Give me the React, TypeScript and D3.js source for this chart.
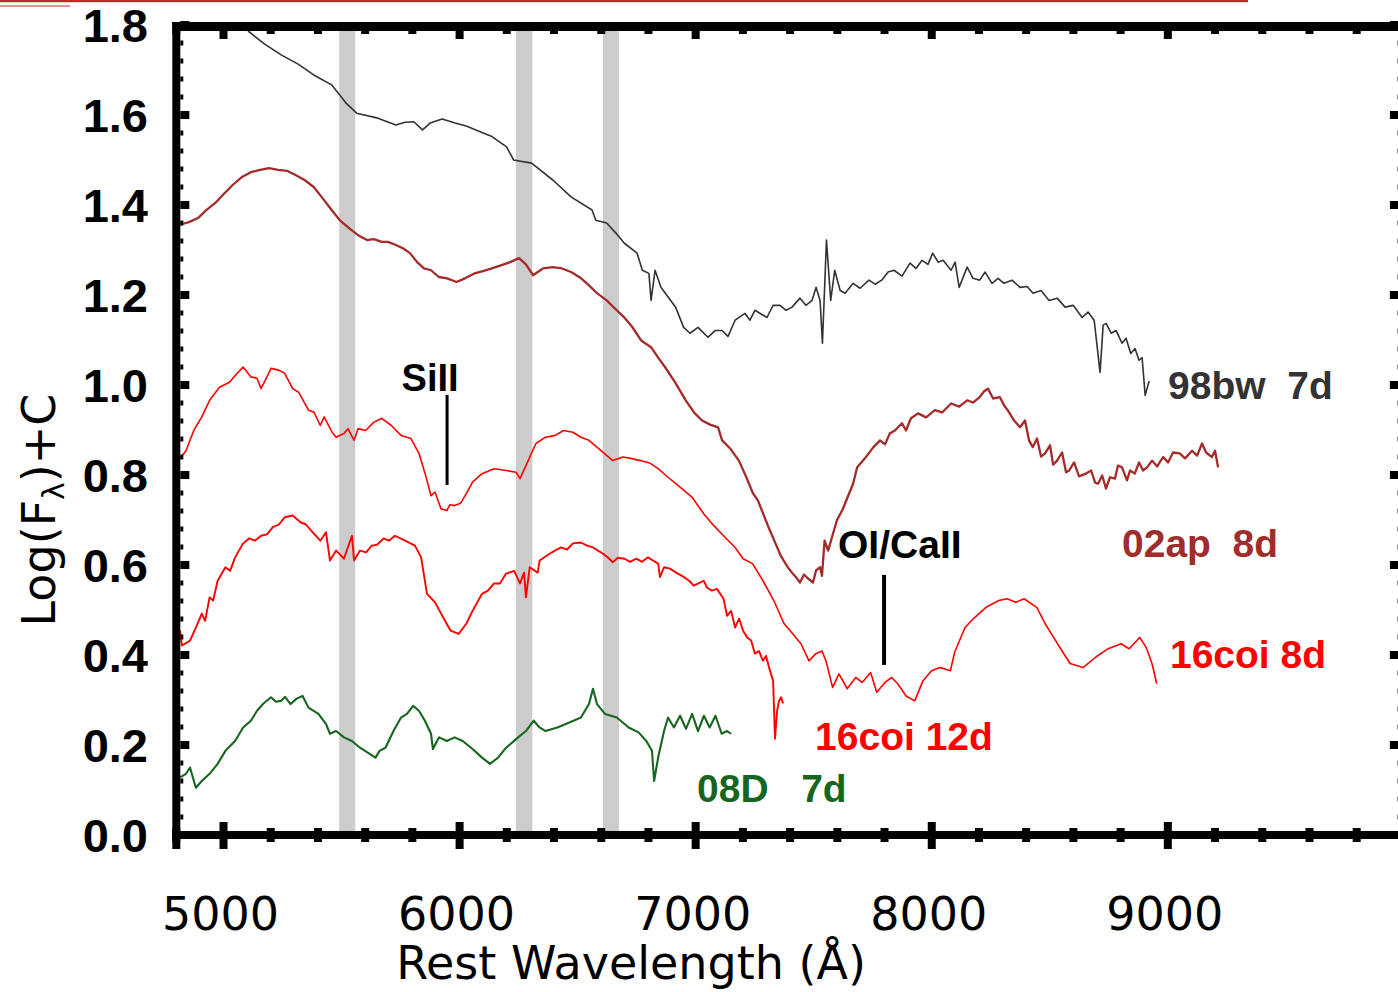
import * as d3 from "d3";
import React from "react";

// wavelength (Angstrom), log flux + offset
const sn98bw7d: [number, number][] = [
	[5091, 1.796], [5108, 1.785], [5176, 1.757], [5246, 1.733], [5316, 1.713], [5382, 1.689],
	[5458, 1.667], [5493, 1.644], [5518, 1.627], [5564, 1.604], [5654, 1.593], [5730, 1.578],
	[5769, 1.584], [5806, 1.585], [5843, 1.567], [5875, 1.582], [5926, 1.591], [5981, 1.582],
	[6031, 1.575], [6087, 1.563], [6137, 1.552], [6199, 1.529], [6229, 1.5], [6305, 1.493],
	[6396, 1.455], [6472, 1.418], [6561, 1.389], [6577, 1.366], [6623, 1.36], [6663, 1.337],
	[6698, 1.315], [6752, 1.293], [6774, 1.255], [6802, 1.248], [6811, 1.188], [6828, 1.255],
	[6853, 1.217], [6915, 1.173], [6949, 1.128], [6976, 1.115], [7010, 1.128], [7052, 1.106],
	[7082, 1.121], [7112, 1.121], [7137, 1.108], [7167, 1.144], [7209, 1.159], [7230, 1.144],
	[7251, 1.166], [7302, 1.15], [7328, 1.177], [7357, 1.177], [7383, 1.166], [7408, 1.173],
	[7442, 1.193], [7467, 1.177], [7493, 1.188], [7510, 1.217], [7527, 1.188], [7537, 1.093],
	[7554, 1.322], [7572, 1.188], [7589, 1.255], [7612, 1.21], [7633, 1.204], [7667, 1.226],
	[7696, 1.215], [7734, 1.233], [7760, 1.224], [7788, 1.233], [7815, 1.251], [7840, 1.255],
	[7874, 1.242], [7908, 1.271], [7933, 1.259], [7959, 1.277], [7984, 1.268], [8004, 1.293],
	[8027, 1.273], [8048, 1.277], [8082, 1.255], [8099, 1.273], [8116, 1.217], [8150, 1.262],
	[8175, 1.237], [8203, 1.233], [8226, 1.251], [8255, 1.226], [8281, 1.237], [8306, 1.226],
	[8340, 1.233], [8374, 1.217], [8404, 1.219], [8429, 1.204], [8463, 1.21], [8497, 1.188],
	[8531, 1.193], [8565, 1.173], [8599, 1.177], [8637, 1.15], [8662, 1.162], [8688, 1.144],
	[8713, 1.028], [8726, 1.133], [8739, 1.137], [8760, 1.115], [8781, 1.121], [8806, 1.093],
	[8823, 1.104], [8843, 1.07], [8861, 1.081], [8878, 1.055], [8891, 1.061], [8904, 0.977],
	[8921, 1.009],
];

const sn02ap8d: [number, number][] = [
	[4807, 1.355], [4853, 1.362], [4892, 1.371], [4928, 1.389], [4964, 1.404], [5004, 1.426],
	[5040, 1.445], [5080, 1.463], [5116, 1.473], [5155, 1.478], [5193, 1.482], [5231, 1.478],
	[5269, 1.476], [5307, 1.466], [5345, 1.455], [5382, 1.44], [5417, 1.417], [5458, 1.389],
	[5493, 1.366], [5533, 1.348], [5570, 1.333], [5608, 1.322], [5637, 1.324], [5670, 1.318],
	[5697, 1.318], [5730, 1.311], [5760, 1.304], [5790, 1.293], [5820, 1.273], [5849, 1.259],
	[5879, 1.255], [5912, 1.24], [5947, 1.237], [5987, 1.229], [6023, 1.237], [6063, 1.248],
	[6099, 1.253], [6137, 1.259], [6175, 1.266], [6214, 1.273], [6252, 1.282], [6281, 1.268],
	[6311, 1.244], [6353, 1.259], [6396, 1.262], [6434, 1.259], [6472, 1.251], [6510, 1.239],
	[6547, 1.222], [6582, 1.204], [6623, 1.188], [6658, 1.17], [6696, 1.151], [6730, 1.13],
	[6769, 1.099], [6811, 1.084], [6841, 1.061], [6870, 1.04], [6913, 1.006], [6958, 0.966],
	[6993, 0.939], [7027, 0.921], [7061, 0.912], [7095, 0.906], [7112, 0.877], [7146, 0.859],
	[7183, 0.832], [7213, 0.797], [7243, 0.759], [7264, 0.743], [7286, 0.714], [7311, 0.681],
	[7338, 0.648], [7362, 0.619], [7390, 0.595], [7408, 0.583], [7425, 0.573], [7442, 0.561],
	[7459, 0.579], [7476, 0.57], [7497, 0.561], [7510, 0.588], [7527, 0.595], [7535, 0.576],
	[7546, 0.654], [7561, 0.632], [7598, 0.699], [7624, 0.725], [7650, 0.759], [7667, 0.781],
	[7684, 0.817], [7717, 0.837], [7753, 0.862], [7781, 0.877], [7802, 0.868], [7822, 0.892],
	[7844, 0.899], [7874, 0.915], [7891, 0.899], [7912, 0.926], [7942, 0.937], [7976, 0.928],
	[8013, 0.944], [8044, 0.939], [8082, 0.959], [8116, 0.952], [8150, 0.966], [8175, 0.961],
	[8203, 0.973], [8222, 0.986], [8238, 0.992], [8260, 0.97], [8289, 0.973], [8306, 0.955],
	[8323, 0.943], [8349, 0.921], [8374, 0.906], [8395, 0.921], [8412, 0.877], [8428, 0.862],
	[8446, 0.881], [8463, 0.841], [8480, 0.848], [8501, 0.866], [8514, 0.823], [8531, 0.832],
	[8552, 0.85], [8569, 0.806], [8582, 0.81], [8603, 0.828], [8624, 0.797], [8652, 0.803],
	[8675, 0.81], [8692, 0.783], [8705, 0.781], [8722, 0.799], [8738, 0.77], [8755, 0.795],
	[8776, 0.792], [8789, 0.821], [8806, 0.817], [8827, 0.788], [8840, 0.81], [8860, 0.803],
	[8878, 0.828], [8895, 0.81], [8912, 0.817], [8933, 0.832], [8955, 0.819], [8980, 0.84],
	[9001, 0.828], [9022, 0.85], [9050, 0.848], [9073, 0.837], [9103, 0.854], [9124, 0.843],
	[9145, 0.87], [9162, 0.85], [9187, 0.84], [9200, 0.854], [9213, 0.817],
];

const sn16coi8d: [number, number][] = [
	[4816, 0.837], [4841, 0.854], [4874, 0.899], [4908, 0.929], [4941, 0.966], [4983, 0.995],
	[5025, 1.006], [5058, 1.026], [5083, 1.04], [5116, 1.018], [5142, 1.015], [5159, 0.992],
	[5184, 1.018], [5201, 1.037], [5234, 1.033], [5259, 1.026], [5293, 0.992], [5318, 0.984],
	[5360, 0.944], [5383, 0.94], [5410, 0.91], [5426, 0.929], [5460, 0.895], [5477, 0.884],
	[5510, 0.892], [5527, 0.903], [5553, 0.877], [5570, 0.903], [5602, 0.899], [5636, 0.917],
	[5670, 0.926], [5711, 0.91], [5752, 0.888], [5794, 0.881], [5828, 0.848], [5854, 0.803],
	[5879, 0.754], [5896, 0.762], [5921, 0.725], [5946, 0.721], [5959, 0.734], [5979, 0.732],
	[6004, 0.737], [6029, 0.759], [6055, 0.784], [6095, 0.803], [6146, 0.814], [6197, 0.81],
	[6239, 0.806], [6256, 0.792], [6281, 0.821], [6323, 0.87], [6364, 0.884], [6406, 0.888],
	[6440, 0.899], [6480, 0.895], [6514, 0.884], [6548, 0.877], [6599, 0.854], [6649, 0.832],
	[6691, 0.84], [6725, 0.837], [6766, 0.832], [6808, 0.826], [6841, 0.814], [6883, 0.795],
	[6934, 0.773], [6984, 0.751], [7034, 0.714], [7076, 0.688], [7118, 0.665], [7167, 0.639],
	[7201, 0.614], [7241, 0.603], [7285, 0.565], [7331, 0.521], [7374, 0.47], [7411, 0.447],
	[7446, 0.425], [7480, 0.387], [7509, 0.403], [7535, 0.409], [7552, 0.387], [7580, 0.328],
	[7607, 0.358], [7642, 0.325], [7678, 0.35], [7705, 0.339], [7741, 0.361], [7767, 0.317],
	[7802, 0.339], [7830, 0.35], [7856, 0.336], [7891, 0.309], [7928, 0.298], [7963, 0.343],
	[7999, 0.365], [8035, 0.372], [8079, 0.365], [8097, 0.406], [8141, 0.461], [8177, 0.481],
	[8230, 0.506], [8284, 0.521], [8319, 0.525], [8356, 0.517], [8391, 0.525], [8445, 0.506],
	[8480, 0.47], [8516, 0.439], [8552, 0.409], [8586, 0.381], [8641, 0.372], [8694, 0.395],
	[8747, 0.414], [8802, 0.425], [8836, 0.414], [8881, 0.439], [8908, 0.417], [8933, 0.381],
	[8953, 0.336],
];

const sn16coi12d: [number, number][] = [
	[4816, 0.454], [4824, 0.421], [4858, 0.432], [4883, 0.461], [4908, 0.492], [4922, 0.476],
	[4941, 0.528], [4956, 0.521], [4975, 0.565], [5008, 0.595], [5028, 0.587], [5049, 0.617],
	[5083, 0.648], [5108, 0.659], [5133, 0.654], [5159, 0.665], [5184, 0.668], [5209, 0.684],
	[5235, 0.69], [5259, 0.706], [5293, 0.71], [5326, 0.695], [5349, 0.69], [5377, 0.673],
	[5410, 0.654], [5434, 0.673], [5451, 0.61], [5477, 0.632], [5510, 0.614], [5544, 0.665],
	[5553, 0.61], [5578, 0.632], [5604, 0.628], [5628, 0.643], [5650, 0.645], [5678, 0.659],
	[5701, 0.654], [5726, 0.665], [5769, 0.654], [5811, 0.643], [5837, 0.617], [5862, 0.536],
	[5896, 0.517], [5930, 0.484], [5962, 0.454], [5996, 0.447], [6029, 0.47], [6055, 0.498],
	[6095, 0.536], [6120, 0.543], [6146, 0.559], [6171, 0.559], [6197, 0.581], [6231, 0.587],
	[6256, 0.559], [6273, 0.583], [6281, 0.528], [6297, 0.595], [6331, 0.583], [6339, 0.61],
	[6381, 0.625], [6404, 0.632], [6430, 0.639], [6455, 0.634], [6480, 0.648], [6514, 0.65],
	[6540, 0.643], [6565, 0.639], [6586, 0.632], [6608, 0.625], [6629, 0.616], [6649, 0.606],
	[6671, 0.616], [6699, 0.614], [6722, 0.607], [6749, 0.614], [6773, 0.607], [6798, 0.617],
	[6819, 0.61], [6841, 0.603], [6849, 0.573], [6866, 0.595], [6891, 0.592], [6917, 0.583],
	[6951, 0.573], [6972, 0.565], [6992, 0.554], [7034, 0.565], [7048, 0.55], [7068, 0.543],
	[7090, 0.547], [7118, 0.525], [7133, 0.487], [7150, 0.498], [7167, 0.461], [7184, 0.481],
	[7201, 0.454], [7218, 0.439], [7235, 0.432], [7251, 0.403], [7268, 0.409], [7285, 0.387],
	[7298, 0.398], [7311, 0.372], [7328, 0.343], [7336, 0.214], [7345, 0.276], [7353, 0.298],
	[7362, 0.306], [7370, 0.292],
];

const sn08D7d: [number, number][] = [
	[4816, 0.128], [4841, 0.136], [4858, 0.15], [4883, 0.105], [4908, 0.12], [4941, 0.136],
	[4975, 0.158], [5008, 0.187], [5049, 0.209], [5083, 0.239], [5116, 0.254], [5142, 0.276],
	[5167, 0.291], [5201, 0.306], [5222, 0.296], [5243, 0.298], [5261, 0.307], [5284, 0.291],
	[5310, 0.303], [5335, 0.309], [5360, 0.283], [5402, 0.269], [5434, 0.247], [5451, 0.225],
	[5477, 0.231], [5510, 0.217], [5544, 0.209], [5578, 0.194], [5611, 0.183], [5644, 0.172],
	[5661, 0.187], [5686, 0.194], [5720, 0.231], [5752, 0.261], [5777, 0.269], [5803, 0.287],
	[5828, 0.276], [5853, 0.254], [5879, 0.225], [5887, 0.191], [5913, 0.217], [5946, 0.209],
	[5979, 0.217], [6013, 0.209], [6055, 0.191], [6095, 0.172], [6129, 0.158], [6163, 0.172],
	[6197, 0.194], [6248, 0.217], [6281, 0.231], [6314, 0.254], [6339, 0.239], [6364, 0.231],
	[6414, 0.239], [6465, 0.25], [6514, 0.261], [6548, 0.291], [6565, 0.325], [6582, 0.291],
	[6616, 0.269], [6666, 0.261], [6716, 0.239], [6758, 0.228], [6791, 0.209], [6815, 0.187],
	[6824, 0.12], [6841, 0.172], [6866, 0.231], [6883, 0.261], [6908, 0.239], [6934, 0.265],
	[6959, 0.236], [6985, 0.269], [7010, 0.231], [7035, 0.265], [7059, 0.239], [7084, 0.265],
	[7110, 0.225], [7133, 0.231], [7150, 0.225],
];

// shaded wavelength windows
const bands: [number, number][] = [
	[5490, 5558],
	[6238, 6308],
	[6607, 6675],
];

const xTickLabels = [5000, 6000, 7000, 8000, 9000];
const yTickLabels = [0, 0.2, 0.4, 0.6, 0.8, 1.0, 1.2, 1.4, 1.6, 1.8];

const W = 1398;
const H = 992;
const boldFont = "'Liberation Sans', Arial, sans-serif";
const plainFont = "'DejaVu Sans', Verdana, sans-serif";

export default function App() {
	const x = d3.scaleLinear().domain([4800, 10000]).range([176.3, 1403.9]);
	const y = d3.scaleLinear().domain([0, 1.8]).range([835, 25]);

	const line = d3
		.line<[number, number]>()
		.x((d) => x(d[0]))
		.y((d) => y(d[1]));

	const series = [
		{ data: sn98bw7d, color: "#333333", width: 1.6 },
		{ data: sn02ap8d, color: "#a52a2a", width: 2.3 },
		{ data: sn16coi8d, color: "#ff0000", width: 1.6 },
		{ data: sn16coi12d, color: "#ff0000", width: 1.9 },
		{ data: sn08D7d, color: "#17661f", width: 2.1 },
	];

	const labels = [
		{ text: "98bw  7d", at: [9001, 0.969], color: "#333333" },
		{ text: "02ap  8d", at: [8806, 0.618], color: "#a02c2c" },
		{ text: "16coi 8d", at: [9009, 0.371], color: "#ff0000" },
		{ text: "16coi 12d", at: [7506, 0.189], color: "#ff0000" },
		{ text: "08D   7d", at: [7006, 0.073], color: "#17661f" },
	];

	const xLeft = x(4800);
	const xRight = x(10000);
	const yTop = y(1.8) + 2;
	const yBottom = y(0);

	const xMinor = d3.range(4800, 10001, 200);
	const yMinor = d3.range(0, 46).map((i) => i * 0.04);
	const isMajorX = (v: number) => v % 1000 === 0;
	const isMajorY = (v: number) => Math.abs(v / 0.2 - Math.round(v / 0.2)) < 1e-6;

	return (
		<svg
			width={W}
			height={H}
			style={{ position: "absolute", left: 0, top: 0, background: "#fff" }}
		>
			<defs>
				<clipPath id="plot">
					<rect x={xLeft} y={yTop} width={xRight - xLeft} height={yBottom - yTop} />
				</clipPath>
			</defs>

			{/* decoration lines at the very top */}
			<line x1={0} x2={1248} y1={1} y2={1} stroke="#c62828" strokeWidth={2.5} />
			<line x1={0} x2={70} y1={6} y2={6} stroke="#c62828" strokeWidth={1.2} />

			{/* grey bands */}
			{bands.map(([a, b], i) => (
				<rect
					key={i}
					x={x(a)}
					width={x(b) - x(a)}
					y={yTop}
					height={yBottom - yTop}
					fill="#cccccc"
				/>
			))}

			{/* spectra */}
			<g clipPath="url(#plot)">
				{series.map((s, i) => (
					<path
						key={i}
						d={line(s.data) ?? ""}
						fill="none"
						stroke={s.color}
						strokeWidth={s.width}
						strokeLinejoin="round"
					/>
				))}
			</g>

			{/* frame */}
			<rect x={xLeft - 4} y={yTop - 5} width={8} height={849 - yTop + 5} fill="#000" />
			<rect x={xLeft - 4} y={yTop - 5} width={W} height={9} fill="#000" />
			<rect x={xLeft - 4} y={yBottom - 4} width={W} height={8} fill="#000" />
			<rect x={xRight - 4} y={yTop - 5} width={8} height={yBottom - yTop + 9} fill="#000" />

			{/* x ticks: top hang inward, bottom cross the axis */}
			{xMinor.map((v) => {
				const major = isMajorX(v);
				return (
					<g key={`xt${v}`}>
						<rect x={x(v) - 4} y={yTop + 4} width={8} height={major ? 8 : 3} fill="#000" />
						<rect
							x={x(v) - 4}
							y={major ? yBottom - 13 : yBottom - 7}
							width={8}
							height={major ? 27 : 14}
							fill="#000"
						/>
					</g>
				);
			})}

			{/* y ticks */}
			{yMinor.map((v) => {
				const major = isMajorY(v);
				return (
					<g key={`yt${v.toFixed(2)}`}>
						<rect
							x={xLeft + 4}
							y={y(v) - (major ? 4 : 2.5)}
							width={major ? 9 : 3}
							height={major ? 8 : 5}
							fill="#000"
						/>
						<rect
							x={major ? xRight - 14 : xRight - 7}
							y={y(v) - (major ? 4 : 2.5)}
							width={major ? 10 : 3}
							height={major ? 8 : 5}
							fill={major ? "#000" : "#999"}
						/>
					</g>
				);
			})}

			{/* tick labels */}
			{xTickLabels.map((v) => (
				<text
					key={`xl${v}`}
					x={x(v) - 3}
					y={930}
					textAnchor="middle"
					fontFamily={plainFont}
					fontSize={46}
					fill="#000"
				>
					{v}
				</text>
			))}
			{yTickLabels.map((v) => (
				<text
					key={`yl${v}`}
					x={148}
					y={y(v) + 17}
					textAnchor="end"
					fontFamily={boldFont}
					fontWeight="bold"
					fontSize={47}
					fill="#000"
				>
					{d3.format(".1f")(v)}
				</text>
			))}

			{/* axis titles */}
			<text
				x={631}
				y={979}
				textAnchor="middle"
				fontFamily={plainFont}
				fontSize={46}
				fill="#000"
			>
				Rest Wavelength (Å)
			</text>
			<text
				transform="translate(55,510) rotate(-90)"
				textAnchor="middle"
				fontFamily={plainFont}
				fontSize={46}
				fill="#000"
			>
				Log(F
				<tspan fontSize={30} dy={9}>
					λ
				</tspan>
				<tspan dy={-9}>)+C</tspan>
			</text>

			{/* line identifications */}
			<text
				x={x(5875)}
				y={y(0.987)}
				textAnchor="middle"
				fontFamily={boldFont}
				fontWeight="bold"
				fontSize={38}
				fill="#000"
			>
				SiII
			</text>
			<line x1={x(5947)} x2={x(5947)} y1={y(0.978)} y2={y(0.778)} stroke="#000" strokeWidth={3} />
			<text
				x={x(7603)}
				y={y(0.616)}
				fontFamily={boldFont}
				fontWeight="bold"
				fontSize={39}
				fill="#000"
			>
				OI/CaII
			</text>
			<line x1={x(7798)} x2={x(7798)} y1={y(0.578)} y2={y(0.378)} stroke="#000" strokeWidth={4} />

			{/* spectrum labels */}
			{labels.map((l) => (
				<text
					key={l.text}
					x={x(l.at[0])}
					y={y(l.at[1])}
					fontFamily={boldFont}
					fontWeight="bold"
					fontSize={39}
					fill={l.color}
					style={{ whiteSpace: "pre" }}
				>
					{l.text}
				</text>
			))}
		</svg>
	);
}
